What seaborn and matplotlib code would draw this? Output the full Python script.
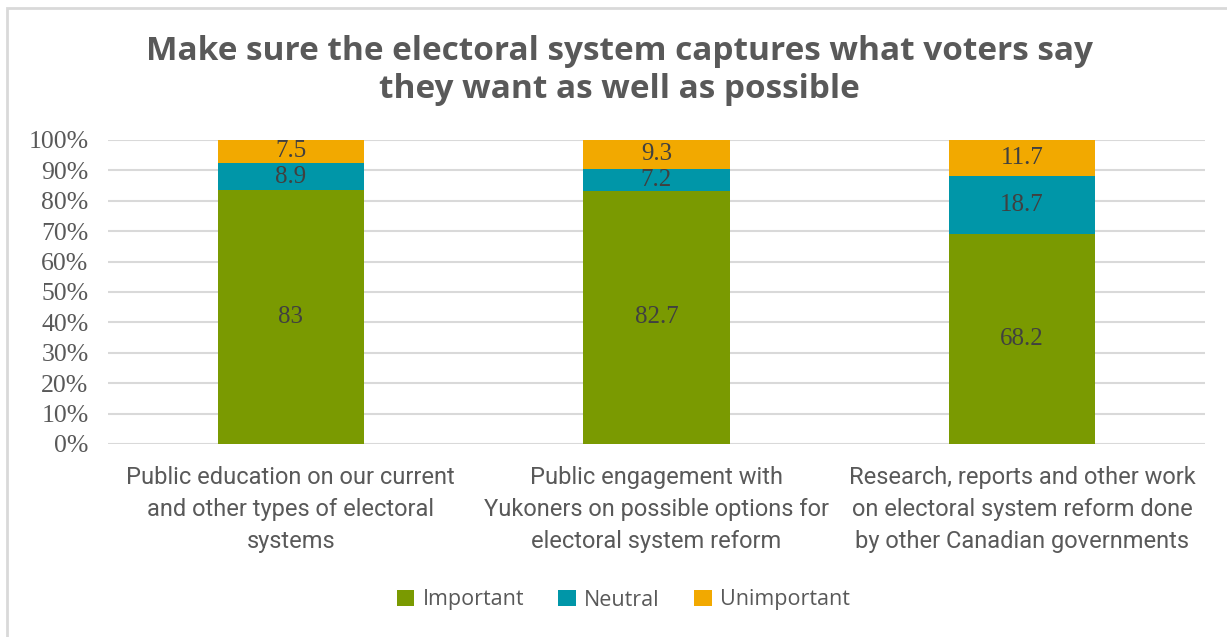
import matplotlib
matplotlib.use("Agg")
import matplotlib.pyplot as plt
from matplotlib.patches import Rectangle
import seaborn as sns
import pandas as pd
import numpy as np

categories = [
    "Public education on our current\nand other types of electoral\nsystems",
    "Public engagement with\nYukoners on possible options for\nelectoral system reform",
    "Research, reports and other work\non electoral system reform done\nby other Canadian governments",
]
series_names = ["Important", "Neutral", "Unimportant"]
important = [83, 82.7, 68.2]
neutral = [8.9, 7.2, 18.7]
unimportant = [7.5, 9.3, 11.7]
colors = ["#7A9A01", "#0096A8", "#F2A900"]
y_ticks = [0, 10, 20, 30, 40, 50, 60, 70, 80, 90, 100]
title = "Make sure the electoral system captures what voters say\nthey want as well as possible"

sns.set_theme(style="white")
plt.rcParams["font.family"] = ["Open Sans", "DejaVu Sans"]
serif = ["Liberation Serif", "DejaVu Serif"]

df = pd.DataFrame({"category": categories, "Important": important,
                   "Neutral": neutral, "Unimportant": unimportant})
totals = df[series_names].sum(axis=1)
shares = df[series_names].div(totals, axis=0) * 100

fig = plt.figure(figsize=(12.27, 6.37), dpi=100)
ax = fig.add_axes([108 / 1227, 1 - 444 / 637, 1097 / 1227, 304 / 637])

# frame around the whole chart
fig.patches.append(Rectangle((7 / 1227, -0.05), 1.1, 1 - 8 / 637 + 0.05,
                             transform=fig.transFigure, fill=False,
                             edgecolor="#D9D9D9", linewidth=2))

for v in y_ticks:
    ax.axhline(v, color="#D9D9D9", linewidth=1.5, zorder=0)

# cumulative share levels for the 100% stack
cum = np.zeros(len(categories))
cum_levels = []
for name in series_names:
    cum = cum + shares[name].values
    cum_levels.append(cum.copy())

for name, color, level in reversed(list(zip(series_names, colors, cum_levels))):
    sns.barplot(x=categories, y=level, color=color, width=0.4, ax=ax,
                saturation=1, zorder=2, edgecolor="none")

# value labels
lower = np.zeros(len(categories))
for name, level in zip(series_names, cum_levels):
    raw = df[name].values
    for i in range(len(categories)):
        mid = (lower[i] + level[i]) / 2
        ax.text(i, mid, f"{raw[i]:g}", ha="center", va="center",
                fontsize=18, color="#404040", family=serif, zorder=3)
    lower = level.copy()

ax.set_ylim(0, 100)
ax.set_xlim(-0.5, 2.5)
ax.set_yticks(y_ticks)
ax.set_yticklabels([f"{v}%" for v in y_ticks], family=serif,
                   fontsize=18.5, color="#595959")
ax.set_xticks(range(len(categories)))
ax.set_xticklabels(categories, fontsize=17, color="#595959", linespacing=1.5,
                   family=["Roboto", "DejaVu Sans"])
ax.tick_params(axis="y", length=0, pad=14)
ax.tick_params(axis="x", length=0, pad=16)
for s in ax.spines.values():
    s.set_visible(False)
ax.set_xlabel("")
ax.set_ylabel("")

fig.text(0.505, 1 - 71 / 637, title, ha="center", va="center", fontsize=24,
         fontweight="bold", color="#595959", linespacing=1.2)

handles = [Rectangle((0, 0), 1, 1, facecolor=c, edgecolor="none") for c in colors]
fig.legend(handles, series_names, loc="center", bbox_to_anchor=(0.508, 1 - 600 / 637),
           ncol=3, frameon=False, fontsize=15.5, handlelength=0.8, handleheight=0.8,
           handletextpad=0.4, columnspacing=1.6, labelcolor="#595959")

fig.savefig("out.png", dpi=100, facecolor="white")
